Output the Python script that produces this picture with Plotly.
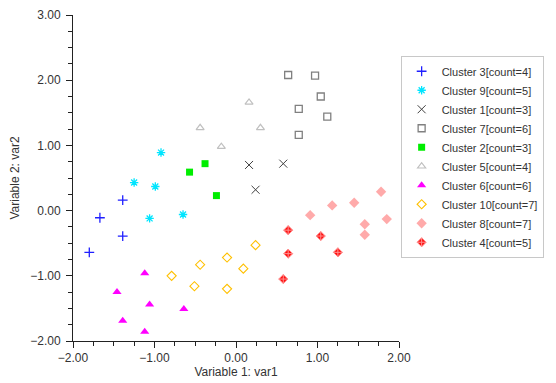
import plotly.graph_objects as go

names = ["Cluster 3[count=4]", "Cluster 9[count=5]", "Cluster 1[count=3]", "Cluster 7[count=6]",
         "Cluster 2[count=3]", "Cluster 5[count=4]", "Cluster 6[count=6]", "Cluster 10[count=7]",
         "Cluster 8[count=7]", "Cluster 4[count=5]"]

c3_x = [-1.39, -1.67, -1.39, -1.80]
c3_y = [0.16, -0.11, -0.39, -0.64]
c9_x = [-0.92, -1.25, -0.99, -1.06, -0.65]
c9_y = [0.89, 0.43, 0.37, -0.12, -0.06]
c1_x = [0.16, 0.58, 0.24]
c1_y = [0.70, 0.72, 0.32]
c7_x = [0.64, 0.97, 1.04, 0.77, 1.12, 0.77]
c7_y = [2.08, 2.07, 1.75, 1.56, 1.44, 1.16]
c2_x = [-0.38, -0.57, -0.24]
c2_y = [0.72, 0.59, 0.23]
c5_x = [0.16, -0.44, 0.30, -0.18]
c5_y = [1.66, 1.27, 1.27, 0.98]
c6_x = [-1.12, -1.46, -1.06, -0.64, -1.39, -1.12]
c6_y = [-0.96, -1.25, -1.44, -1.51, -1.69, -1.86]
c10_x = [0.24, -0.11, -0.44, 0.09, -0.79, -0.51, -0.11]
c10_y = [-0.53, -0.72, -0.83, -0.89, -1.00, -1.16, -1.20]
c8_x = [1.78, 1.45, 1.18, 0.91, 1.85, 1.58, 1.58]
c8_y = [0.29, 0.12, 0.08, -0.07, -0.13, -0.21, -0.37]
c4_x = [0.64, 1.04, 0.64, 1.25, 0.58]
c4_y = [-0.30, -0.39, -0.66, -0.64, -1.05]

xs = [c3_x, c9_x, c1_x, c7_x, c2_x, c5_x, c6_x, c10_x, c8_x, c4_x]
ys = [c3_y, c9_y, c1_y, c7_y, c2_y, c5_y, c6_y, c10_y, c8_y, c4_y]

styles = [
    dict(symbol="cross-thin-open", color="#2020ff", size=7, line=dict(width=1.3, color="#2020ff")),
    dict(symbol="asterisk-open", color="#00e5ff", size=7, line=dict(width=1.3, color="#00e5ff")),
    dict(symbol="x-thin-open", color="#404040", size=8, line=dict(width=1, color="#404040")),
    dict(symbol="square-open", color="#808080", size=7, line=dict(width=1.3, color="#808080")),
    dict(symbol="square", color="#00ee00", size=7, line=dict(width=0)),
    dict(symbol="triangle-up-open", color="#c0c0c0", size=7, line=dict(width=1.2, color="#c0c0c0")),
    dict(symbol="triangle-up", color="#ff00ff", size=8, line=dict(width=0)),
    dict(symbol="diamond-open", color="#ffc000", size=7, line=dict(width=1.1, color="#ffc000")),
    dict(symbol="diamond", color="#ffaaaa", size=8, line=dict(width=0)),
    dict(symbol="diamond-cross", color="#ff1010", size=7, line=dict(width=1, color="#ff9090")),
]

fig = go.Figure()
for n, x, y, s in zip(names, xs, ys, styles):
    fig.add_trace(go.Scatter(x=x, y=y, mode="markers", name=n, marker=s))

axis_common = dict(
    showgrid=False, zeroline=False, showline=True, linecolor="#222222", linewidth=1,
    ticks="outside", ticklen=6, tickcolor="#222222", tickformat=".2f", dtick=1,
    minor=dict(ticks="outside", ticklen=4, tickcolor="#222222", dtick=0.25),
    tickfont=dict(size=12, color="#333333"), automargin=False,
)
fig.update_layout(
    width=556, height=383,
    margin=dict(l=73, r=157, t=15, b=42),
    paper_bgcolor="white", plot_bgcolor="white",
    font=dict(family="Liberation Sans, Arial, sans-serif", size=12, color="#333333"),
    xaxis=dict(range=[-2, 2], title=dict(text="Variable 1: var1", standoff=0, font=dict(size=12)), **axis_common),
    yaxis=dict(range=[-2, 3], title=dict(text="Variable 2: var2", standoff=8, font=dict(size=12)),
               ticklabelstandoff=3, **axis_common),
    legend=dict(x=1.005, y=0.875, xanchor="left", yanchor="top", bordercolor="#c8c8c8", borderwidth=1,
                font=dict(size=11), itemsizing="trace", tracegroupgap=0, itemwidth=30),
    showlegend=True,
)
fig.write_html("out.html", config={"displayModeBar": False},
               post_script="document.body.style.margin='0px';")
